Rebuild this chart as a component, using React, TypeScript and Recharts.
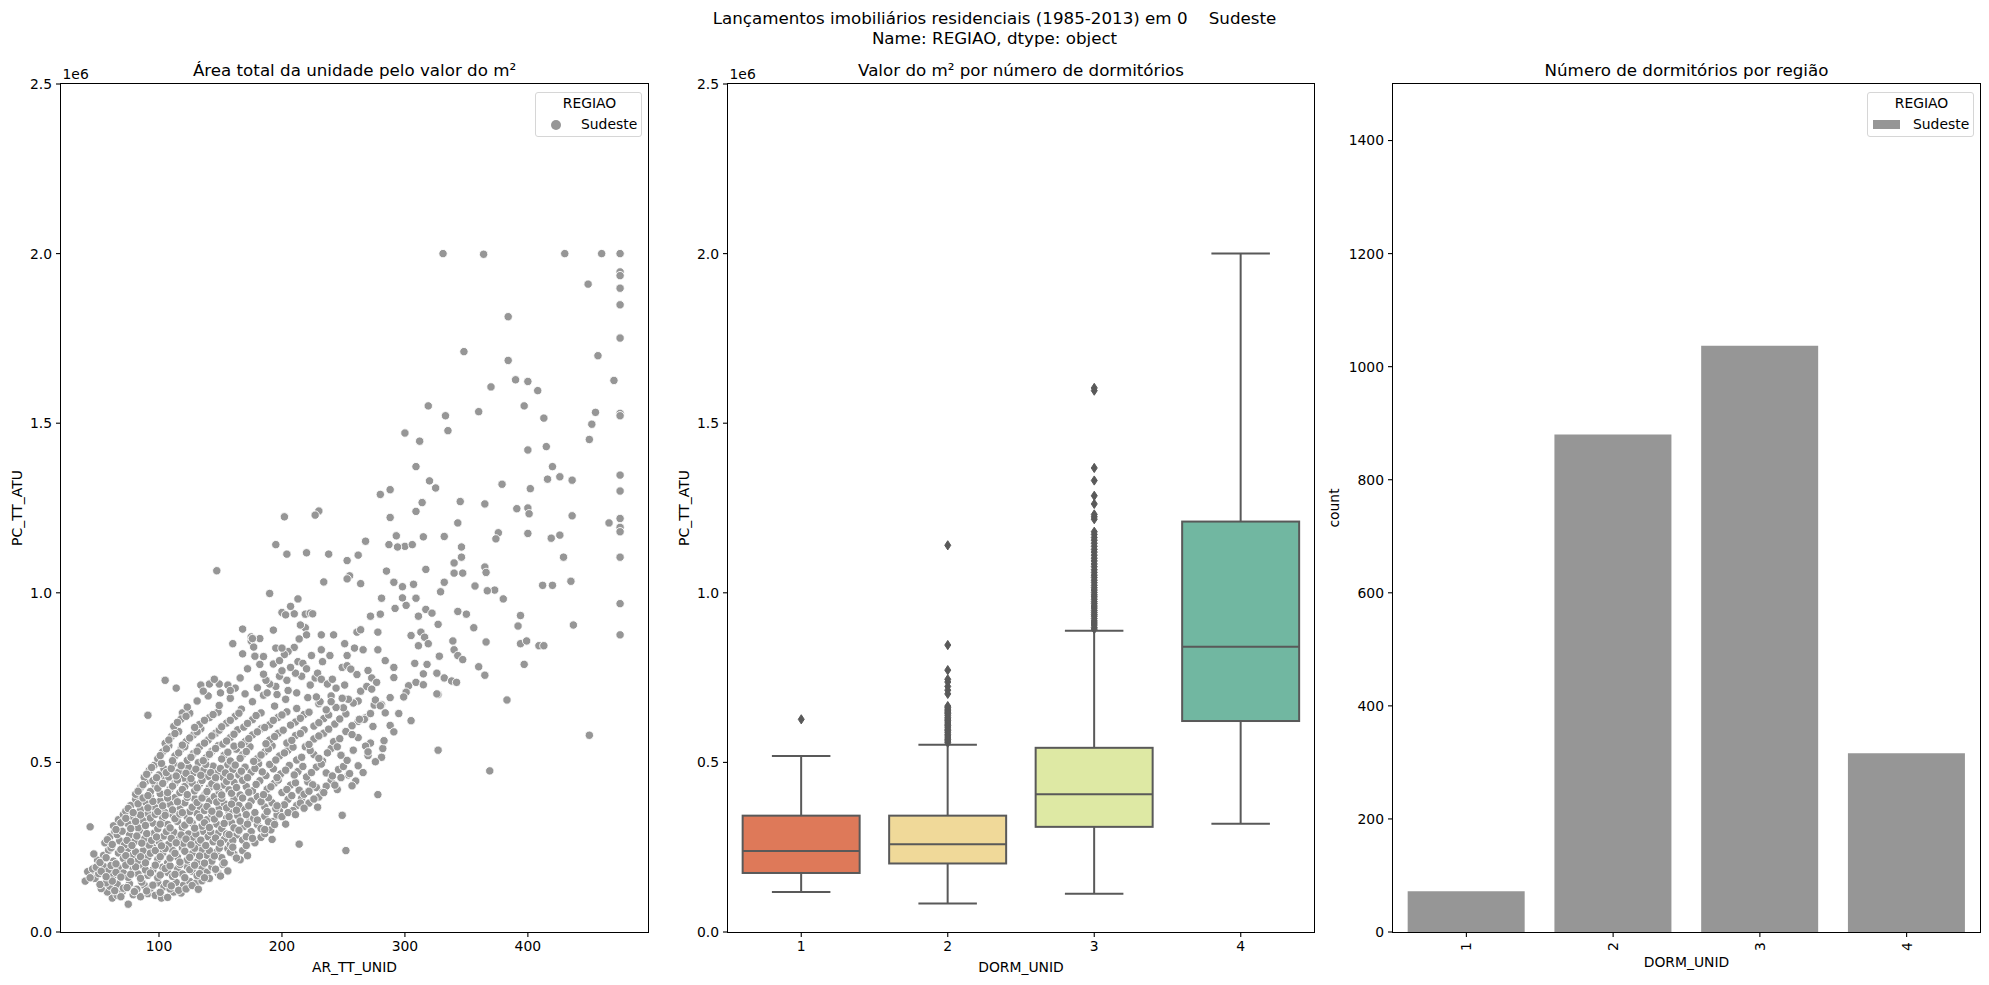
import React from 'react'
import { ScatterChart, Scatter, ComposedChart, Bar, BarChart, XAxis, YAxis } from 'recharts'

const FONT = '"DejaVu Sans", Verdana, sans-serif'
const INK = '#000'
const GRAY = '#969696'
const BOX_LINE = '#595959'

// AR_TT_UNID (m²), PC_TT_ATU in thousands
const coreLow: [number, number][] = [
  [75,82],[62,100],[66,108],[70,118],[79,110],[85,104],[91,113],[97,108],[102,100],[107,102],[112,118],[118,115],[58,118],
  [53,128],[60,135],[66,141],[71,129],[76,142],[82,126],[88,138],[93,129],[99,145],[104,133],[109,127],[114,146],[120,138],
  [125,149],[130,144],[135,151],[40,150],[44,168],[48,158],
  [42,178],[46,186],[51,172],[55,193],[59,181],[63,166],[67,190],[71,174],[75,161],[79,186],[83,171],[87,196],[91,167],
  [95,183],[99,160],[103,191],[107,176],[111,164],[115,186],[119,171],[123,193],[127,179],[131,166],[135,189],[139,176],
  [143,192],[148,173],[152,199],[141,158],
  [50,212],[55,226],[59,241],[63,209],[67,233],[71,217],[75,246],[79,228],[83,211],[87,239],[91,221],[95,249],[99,214],
  [103,233],[107,204],[111,241],[115,221],[119,248],[123,212],[127,231],[131,206],[135,243],[139,226],[143,209],[147,236],
  [151,219],[156,246],[161,229],[166,213],
  [56,263],[60,281],[64,296],[68,269],[72,257],[76,286],[80,266],[84,299],[88,274],[92,256],[96,291],[100,267],[104,283],
  [108,259],[112,294],[116,273],[120,261],[124,289],[128,276],[132,263],[136,297],[140,281],[144,266],[148,291],[153,273],
  [158,258],[163,286],[168,271],[175,296],[183,279],[214,259],
  [44,310],[63,313],[67,331],[71,346],[75,318],[79,339],[83,307],[87,328],[91,349],[95,321],[99,304],[103,336],[107,317],
  [111,346],[115,326],[119,308],[123,339],[127,321],[131,349],[135,312],[139,331],[143,346],[147,318],[151,305],[155,336],
  [159,322],[164,343],[169,311],[174,331],[180,317],[186,341],[193,326],[249,344],
]

const coreHigh: [number, number][] = [
  [73,356],[77,373],[81,391],[85,361],[89,383],[93,398],[97,366],[101,386],[105,352],[109,376],[113,396],[117,363],[121,381],
  [125,355],[129,393],[133,371],[137,358],[141,386],[145,399],[149,366],[153,379],[157,354],[161,391],[165,373],[170,361],
  [175,386],[180,399],[186,369],[192,381],[198,357],[205,391],[212,373],
  [81,406],[85,426],[89,443],[93,414],[97,433],[101,408],[105,449],[109,421],[113,439],[117,411],[121,429],[125,446],[129,416],
  [133,436],[137,404],[141,426],[145,446],[149,413],[153,433],[157,419],[161,441],[166,404],[171,429],[176,416],[182,446],
  [188,421],[194,439],[200,411],[207,433],[214,418],[221,443],[228,426],[240,447],[278,405],
  [88,456],[92,476],[96,491],[100,463],[104,481],[108,457],[112,496],[116,471],[120,454],[124,486],[128,469],[132,499],[136,476],
  [140,459],[144,489],[148,471],[152,456],[156,493],[160,479],[165,463],[170,486],[175,471],[181,496],[187,461],[193,481],
  [199,466],[206,491],[213,473],[220,457],[228,486],[236,469],[246,479],[254,463],[255,467],
  [99,511],[103,531],[108,549],[113,519],[118,539],[123,506],[128,526],[133,546],[138,513],[143,533],[148,549],[153,521],
  [158,504],[163,539],[168,523],[174,546],[180,511],[186,531],[192,549],[198,519],[205,536],[212,507],[219,546],[226,523],
  [233,504],[240,541],[248,521],[258,536],[281,515],[282,541],
  [105,556],[110,576],[116,591],[122,561],[128,581],[134,599],[140,566],[146,586],[152,554],[158,573],[164,596],[170,561],
  [176,581],[183,599],[190,566],[197,586],[204,557],[211,579],[218,596],[226,569],[234,586],[242,561],[252,591],[262,573],
  [272,557],[283,564],
  [91,639],[112,606],[119,646],[118,628],[125,645],[133,612],[141,632],[148,648],[155,616],[162,636],[169,604],[176,626],
  [183,646],[190,611],[197,633],[204,649],[211,619],[218,641],[226,607],[234,629],[243,613],[252,643],[262,621],[274,606],
  [288,609],[284,646],
  [123,663],[131,681],[140,696],[149,668],[158,689],[167,657],[176,679],[185,698],[194,666],[203,686],[212,659],[221,691],
  [230,673],[240,696],[250,661],[262,681],[275,669],[288,691],[281,670],[295,644],
]

// points that sit between the rows above, where the cloud is thickest
const coreFill: [number, number][] = [
  [64,122],[69,104],[74,131],[80,119],[86,147],[90,121],[95,138],[101,117],[106,143],[110,136],[116,123],[122,127],
  [127,137],[132,126],[57,145],[62,150],[52,140],
  [44,160],[49,191],[53,179],[57,163],[61,196],[65,176],[69,162],[73,197],[77,170],[81,192],[85,158],[89,183],[93,174],
  [97,197],[101,168],[105,187],[109,195],[113,170],[117,199],[121,160],[125,184],[129,197],[133,172],[137,160],[146,185],
  [150,165],[156,180],
  [47,230],[52,205],[57,219],[61,248],[65,201],[69,243],[73,225],[77,208],[81,236],[85,222],[89,204],[93,232],[97,240],
  [101,222],[105,246],[109,218],[113,232],[117,206],[121,238],[125,220],[129,247],[133,224],[137,203],[141,240],[145,224],
  [149,247],[153,204],[158,235],[163,218],[168,240],[172,225],
  [58,272],[62,258],[66,287],[70,297],[74,270],[78,255],[82,283],[86,262],[90,290],[94,270],[98,280],[102,254],[106,296],
  [110,276],[114,263],[118,286],[122,274],[126,257],[130,289],[134,271],[138,255],[142,295],[146,277],[150,262],[155,289],
  [160,270],[165,298],[171,281],[178,263],[186,290],[192,273],
  [65,302],[69,322],[73,335],[77,305],[81,326],[85,345],[89,314],[93,336],[97,347],[101,318],[105,344],[109,307],[113,334],
  [117,348],[121,315],[125,329],[129,306],[133,338],[137,322],[141,308],[145,333],[149,348],[153,320],[157,340],[161,307],
  [166,327],[171,346],[177,335],[183,305],[189,325],[196,345],[203,318],
  [75,364],[79,352],[83,378],[87,395],[91,366],[95,385],[99,355],[103,372],[107,395],[111,360],[115,384],[119,352],[123,397],
  [127,368],[131,382],[135,395],[139,370],[143,356],[147,383],[151,394],[155,366],[159,377],[163,359],[168,395],[173,372],
  [178,352],[183,384],[189,396],[195,364],[202,375],[209,358],[216,394],[222,380],
  [83,415],[87,434],[91,402],[95,446],[99,424],[103,438],[107,411],[111,430],[115,448],[119,420],[123,405],[127,439],
  [131,425],[135,447],[139,414],[143,437],[147,428],[151,404],[155,444],[159,409],[163,426],[168,447],[173,412],[179,435],
  [185,405],[191,428],[197,448],[204,420],[211,440],[218,406],[225,434],[233,412],
  [90,465],[94,485],[98,455],[102,497],[106,470],[110,482],[114,460],[118,490],[122,468],[126,452],[130,480],[134,462],
  [138,494],[142,470],[146,455],[150,482],[154,469],[158,458],[162,492],[167,474],[172,455],[178,482],[184,472],[190,494],
  [196,455],[203,477],[210,463],[217,488],[224,470],[232,495],[241,460],[250,488],
  [101,520],[106,540],[111,505],[116,528],[121,546],[126,515],[131,533],[136,505],[141,524],[146,541],[151,510],[156,530],
  [161,548],[166,512],[171,532],[177,503],[183,522],[189,540],[195,507],[202,528],[209,545],[216,515],[223,535],[230,512],
  [237,528],[245,546],[253,506],
  [108,566],[113,585],[119,551],[125,572],[131,590],[137,557],[143,578],[149,595],[155,563],[161,583],[167,552],[173,570],
  [180,590],[187,555],[194,576],[201,595],[208,565],[215,585],[222,553],[230,578],[238,598],[247,570],[257,582],
  [115,618],[122,636],[129,603],[137,624],[144,641],[151,605],[158,624],[165,645],[172,615],[179,638],[186,603],[193,624],
  [200,640],[207,610],[215,630],[222,648],[230,617],[238,640],[247,628],[257,608],[268,632],
]

// loose points along the lower-right edge of the cloud
const coreEdge: [number, number][] = [
  [165,300],[172,318],[188,355],[196,372],[208,402],[222,415],[236,430],[248,455],[262,490],[270,520],[200,340],[180,330],
  [215,380],[230,398],[245,420],[260,445],[252,240],[191,301],[205,352],[226,392],[243,433],[266,470],[276,502],[157,287],
  [176,276],[194,317],[218,365],[234,411],[257,431],[268,548],[291,590],[160,250],[171,255],[186,302],[211,346],[229,368],
]

const midBand: [number, number][] = [
  [210,938],[219,937],[223,940],[225,938],[219,897],[220,876],[214,864],[210,839],[205,827],[202,818],[195,837],[200,837],
  [213,797],[217,792],[224,815],[232,876],[232,832],[233,797],[239,815],[242,876],[249,780],[251,850],[253,815],[253,785],
  [259,837],[261,884],[264,891],[266,832],[270,771],[273,749],[277,736],[278,832],[278,884],[251,728],[256,775],[261,759],
  [264,710],[269,724],[273,716],[276,684],[280,667],[272,644],[267,627],[263,627],[258,675],[254,686],[249,689],[244,662],
  [240,679],[236,655],[231,679],[228,693],[223,728],[227,749],[229,763],[232,745],[237,731],[241,745],[244,719],[220,776],
  [216,754],[211,763],[207,780],[204,742],[198,754],[195,724],[190,731],[187,742],[182,789],[178,813],[175,858],[175,870],
  [168,893],[160,850],[172,776],[166,749],[162,719],[156,728],[149,731],[141,731],[134,728],[136,710],[114,719],[105,742],
  [150,705],[158,712],[170,702],[180,720],[188,705],[196,700],[205,712],[212,705],[145,745],[200,770],[185,760],[193,790],
  [177,840],[168,820],[185,812],[198,800],[200,942],[203,935],[215,905],[207,960],[193,890],[182,865],[176,865],
  [272,931],[280,937],[292,954],[301,963],[311,931],[317,951],[322,940],[327,907],[313,884],[305,874],[316,869],[319,850],
  [311,844],[328,813],[318,789],[308,792],[326,763],[315,761],[303,726],[309,736],[315,729],[301,707],[327,700],[332,749],
  [338,740],[342,736],[339,858],[340,832],[343,815],[347,803],[343,945],[350,937],[356,897],[360,782],[365,757],[366,855],
  [383,684],[392,902],[394,933],[394,850],[397,789],[399,858],[409,844],[413,844],[437,905],[450,580],[369,475],[327,536],
  [326,702],[305,623],[299,693],[291,750],[291,780],[284,800],[270,531],
]

const upperTail: [number, number][] = [
  [331,2000],[364,1998],[430,2000],[460,2000],[475,2000],[475,1946],[475,1935],[475,1898],[475,1849],[475,1751],[475,1529],
  [475,1522],[475,1347],[475,1300],[475,1219],[475,1193],[475,1180],[475,1105],[475,968],[475,876],
  [449,1910],[384,1814],[348,1711],[457,1699],[384,1685],[390,1628],[400,1623],[408,1596],[470,1626],[370,1607],[319,1551],
  [397,1551],[360,1534],[455,1532],[333,1522],[413,1515],[452,1497],[335,1478],[300,1471],[450,1452],[312,1447],[415,1431],
  [400,1421],[309,1372],[420,1372],[426,1342],[416,1335],[436,1332],[320,1330],[379,1320],[402,1307],[325,1309],[288,1304],
  [314,1266],[280,1290],[345,1269],[365,1262],[400,1250],[391,1248],[309,1240],[230,1241],[227,1229],[202,1224],[436,1227],
  [401,1233],[288,1222],[466,1206],[343,1206],[376,1177],[374,1159],[419,1161],[426,1170],[400,1175],[315,1165],[293,1168],
  [332,1166],[268,1152],[195,1142],[287,1142],[300,1137],[306,1142],[294,1135],[220,1118],[204,1114],[238,1114],[346,1135],
  [262,1111],[346,1105],[429,1105],[340,1088],[285,1064],[317,1069],[340,1058],[347,1058],[365,1076],[366,1060],[253,1095],
  [147,1065],[255,1050],[264,1027],[253,1041],[234,1032],[291,1031],[357,1020],[298,1018],[307,1025],[373,1008],[367,1006],
  [412,1022],[420,1022],[329,1003],[332,1031],[435,1034],[380,982],[190,998],[298,985],[309,984],[281,984],[213,982],
]

const dormCats = ['1', '2', '3', '4']
const dormCounts = [72, 880, 1037, 316]
// box statistics per DORM_UNID, thousands
const boxLow = [118, 84, 113, 319]
const boxQ1 = [174, 202, 310, 622]
const boxMed = [239, 259, 406, 841]
const boxQ3 = [343, 343, 543, 1210]
const boxHigh = [519, 552, 888, 2000]
const boxColors = ['#de7959', '#f0d999', '#dee9a4', '#71b7a1']
const fliers: number[][] = [
  [627],
  [558,563,567,572,578,583,589,594,598,604,609,613,619,624,628,633,639,644,648,652,657,662,666,702,713,724,737,745,772,846,1140],
  [893,898,905,911,917,924,931,936,942,948,955,961,968,974,981,988,994,1001,1008,1015,1022,1030,1037,1045,1052,1060,1068,
   1077,1085,1094,1102,1111,1120,1128,1137,1146,1155,1163,1172,1180,1217,1224,1231,1262,1286,1331,1368,1596,1604],
  [],
]

const priceTicks = [0, 500000, 1000000, 1500000, 2000000, 2500000]
const countTicks = [0, 200, 400, 600, 800, 1000, 1200, 1400]

const scatterPoints = [...coreLow, ...coreHigh, ...coreFill, ...coreEdge, ...midBand, ...upperTail]
  .map(([a, p]) => ({ area: a, price: p * 1000 }))

const boxData = [
  ...dormCats.map((d, i) => ({
    dorm: d,
    box: [boxLow[i] * 1000, boxHigh[i] * 1000],
    lo: boxLow[i] * 1000, q1: boxQ1[i] * 1000, med: boxMed[i] * 1000,
    q3: boxQ3[i] * 1000, hi: boxHigh[i] * 1000, color: boxColors[i],
  })),
  ...dormCats.flatMap((d, i) => fliers[i].map(v => ({ dorm: d, flier: v * 1000 }))),
]

const countData = dormCats.map((d, i) => ({ dorm: d, count: dormCounts[i] }))

const tickStyle = { fontSize: 13.9, fill: INK, fontFamily: FONT }
const fmt1e6 = (v: number) => (v / 1e6).toFixed(1)

const PLOT_TOP = 84
const PLOT_H = 848

function Dot(props: any) {
  const { cx, cy } = props
  if (!isFinite(cx) || !isFinite(cy)) return null
  return <circle cx={cx} cy={cy} r={4.2} fill={GRAY} stroke="#fff" strokeWidth={0.9} />
}

function BoxShape(props: any) {
  const { x, y, width, height, payload } = props
  if (!payload || payload.q1 == null) return null
  const top = Math.min(y, y + height)
  const k = Math.abs(height) / (payload.hi - payload.lo)
  const py = (v: number) => top + (payload.hi - v) * k
  const cx = x + width / 2
  const cap = width / 4
  const ln = { stroke: BOX_LINE, strokeWidth: 2 }
  return (
    <g>
      <rect x={x} y={py(payload.q3)} width={width} height={py(payload.q1) - py(payload.q3)} fill={payload.color} {...ln} />
      <line x1={cx} x2={cx} y1={py(payload.q3)} y2={py(payload.hi)} {...ln} />
      <line x1={cx} x2={cx} y1={py(payload.q1)} y2={py(payload.lo)} {...ln} />
      <line x1={cx - cap} x2={cx + cap} y1={py(payload.hi)} y2={py(payload.hi)} {...ln} />
      <line x1={cx - cap} x2={cx + cap} y1={py(payload.lo)} y2={py(payload.lo)} {...ln} />
      <line x1={x} x2={x + width} y1={py(payload.med)} y2={py(payload.med)} {...ln} />
    </g>
  )
}

function Diamond(props: any) {
  const { cx, cy, payload } = props
  if (!payload || payload.flier == null || !isFinite(cy)) return null
  return (
    <path d={`M${cx},${cy - 4.6} L${cx + 3},${cy} L${cx},${cy + 4.6} L${cx - 3},${cy} Z`}
      fill={BOX_LINE} stroke={BOX_LINE} strokeWidth={1} />
  )
}

function RotatedTick(props: any) {
  const { x, y, payload } = props
  const ty = y + 5.5
  return (
    <text x={x} y={ty} transform={`rotate(-90 ${x} ${ty})`} textAnchor="middle" dominantBaseline="central"
      fontSize={13.9} fontFamily={FONT} fill={INK}>{payload.value}</text>
  )
}

function Txt({ x, y, children, size = 13.9, rotate = 0, anchor = 'middle' }: any) {
  const tx = anchor === 'middle' ? '-50%' : anchor === 'end' ? '-100%' : '0'
  return (
    <div style={{
      position: 'absolute', left: x, top: y, whiteSpace: 'pre', fontFamily: FONT, fontSize: size,
      lineHeight: 1, color: INK, transform: `translate(${tx}, -50%) rotate(${rotate}deg)`,
    }}>{children}</div>
  )
}

function Frame({ left, width }: { left: number; width: number }) {
  return (
    <div style={{
      position: 'absolute', left: left - 1, top: PLOT_TOP - 1, width, height: PLOT_H,
      border: '1px solid #000', pointerEvents: 'none',
    }} />
  )
}

function Legend({ left, top, width, marker }: any) {
  return (
    <div style={{
      position: 'absolute', left, top, width, height: 45, boxSizing: 'border-box',
      border: '1px solid #d6d6d6', borderRadius: 3, background: 'rgba(255,255,255,0.8)',
    }}>
      <Txt x={width / 2} y={11}>REGIAO</Txt>
      {marker}
      <Txt x={width - 62} y={32} anchor="start">Sudeste</Txt>
    </div>
  )
}

const axisCommon = {
  axisLine: false,
  tickLine: { stroke: INK, strokeWidth: 1.1 },
  tickSize: 5,
  tickMargin: 4,
  tick: tickStyle,
}

export default function App() {
  return (
    <div style={{ position: 'fixed', left: 0, top: 0, width: 1989, height: 985, background: '#fff', overflow: 'hidden' }}>
      <Txt x={994.5} y={18} size={16.7}>{'Lançamentos imobiliários residenciais (1985-2013) em 0    Sudeste'}</Txt>
      <Txt x={994.5} y={38} size={16.7}>Name: REGIAO, dtype: object</Txt>

      {/* scatter: area vs price */}
      <div style={{ position: 'absolute', left: 0, top: 0 }}>
        <ScatterChart width={648} height={985} margin={{ top: PLOT_TOP, right: 0, bottom: 3, left: 0 }}>
          <XAxis type="number" dataKey="area" domain={[20.3, 497.7]} ticks={[100, 200, 300, 400]}
            allowDataOverflow height={50} {...axisCommon} />
          <YAxis type="number" dataKey="price" domain={[0, 2500000]} ticks={priceTicks} tickFormatter={fmt1e6}
            allowDataOverflow width={61} {...axisCommon} />
          <Scatter data={scatterPoints} shape={Dot} isAnimationActive={false} />
        </ScatterChart>
      </div>
      <Frame left={61} width={587} />
      <Txt x={354.5} y={70} size={16.7}>Área total da unidade pelo valor do m²</Txt>
      <Txt x={62.5} y={75} anchor="start">1e6</Txt>
      <Txt x={18} y={508} rotate={-90}>PC_TT_ATU</Txt>
      <Txt x={354.5} y={968}>AR_TT_UNID</Txt>
      <Legend left={535} top={92} width={107}
        marker={<div style={{ position: 'absolute', left: 15, top: 27, width: 10, height: 10, borderRadius: '50%', background: GRAY }} />} />

      {/* box plot: price by bedrooms */}
      <div style={{ position: 'absolute', left: 667, top: 0 }}>
        <ComposedChart width={647} height={985} data={boxData} margin={{ top: PLOT_TOP, right: 0, bottom: 3, left: 0 }}>
          <XAxis type="category" dataKey="dorm" allowDuplicatedCategory={false} height={50} {...axisCommon} />
          <YAxis type="number" domain={[0, 2500000]} ticks={priceTicks} tickFormatter={fmt1e6}
            allowDataOverflow width={61} {...axisCommon} />
          <Bar dataKey="box" shape={BoxShape} isAnimationActive={false} />
          <Scatter dataKey="flier" shape={Diamond} isAnimationActive={false} />
        </ComposedChart>
      </div>
      <Frame left={728} width={586} />
      <Txt x={1021} y={70} size={16.7}>Valor do m² por número de dormitórios</Txt>
      <Txt x={729.5} y={75} anchor="start">1e6</Txt>
      <Txt x={685} y={508} rotate={-90}>PC_TT_ATU</Txt>
      <Txt x={1021} y={968}>DORM_UNID</Txt>

      {/* count plot: bedrooms */}
      <div style={{ position: 'absolute', left: 1332, top: 0 }}>
        <BarChart width={648} height={985} data={countData} margin={{ top: PLOT_TOP, right: 0, bottom: 3, left: 0 }}>
          <XAxis type="category" dataKey="dorm" height={50} {...axisCommon} tick={<RotatedTick />} />
          <YAxis type="number" domain={[0, 1500]} ticks={countTicks} allowDataOverflow width={61} {...axisCommon} />
          <Bar dataKey="count" fill={GRAY} isAnimationActive={false} />
        </BarChart>
      </div>
      <Frame left={1393} width={587} />
      <Txt x={1686.5} y={70} size={16.7}>Número de dormitórios por região</Txt>
      <Txt x={1335} y={508} rotate={-90}>count</Txt>
      <Txt x={1686.5} y={963}>DORM_UNID</Txt>
      <Legend left={1867} top={92} width={107}
        marker={<div style={{ position: 'absolute', left: 5, top: 27, width: 27, height: 9, background: GRAY }} />} />
    </div>
  )
}
